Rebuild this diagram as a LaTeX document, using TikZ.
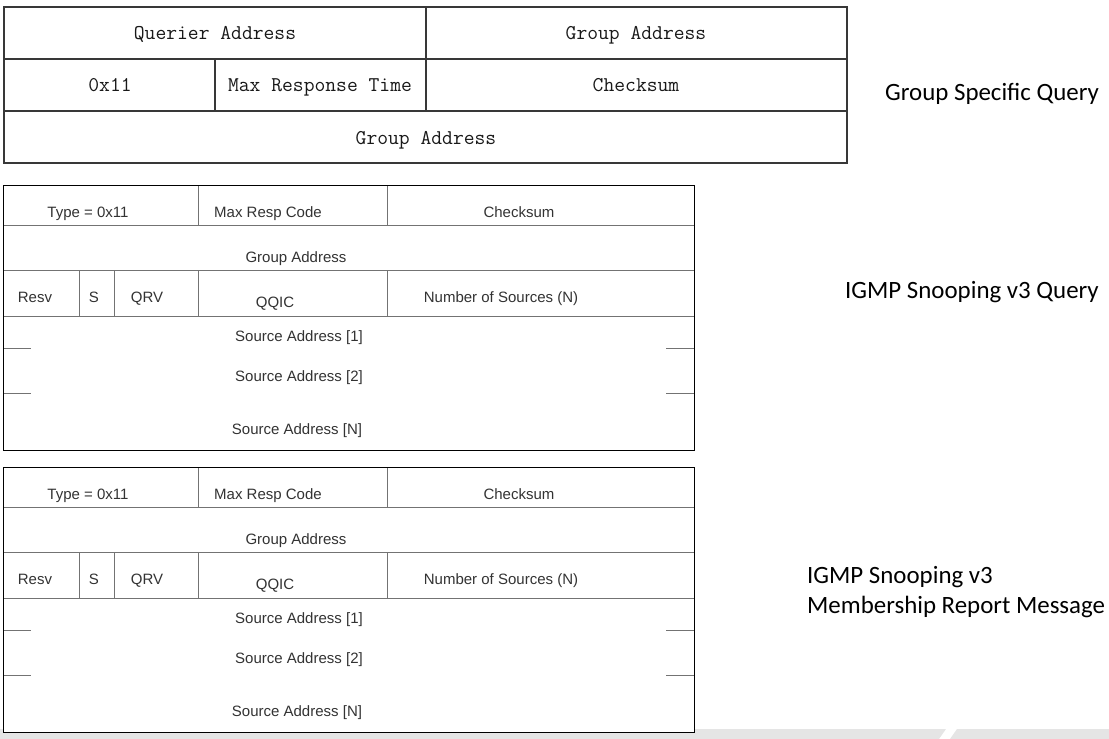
\documentclass[tikz,border=0pt]{standalone}
\usepackage{fontspec}
\setmainfont{Carlito}
\newfontfamily\monof{Latin Modern Mono}
\newfontfamily\arialf{Liberation Sans}
\newcommand{\vthreetable}[2]{%
\begin{scope}[shift={(0,#2)}]
  \fill[white] (3,185) rectangle (694,450);
  \draw[innerline] (3,225) -- (694,225) (3,270) -- (694,270) (3,316) -- (694,316)
    (198,185) -- (198,225) (387,185) -- (387,225)
    (79,270) -- (79,316) (114,270) -- (114,316) (198,270) -- (198,316) (387,270) -- (387,316)
    (3,348) -- (31,348) (3,393) -- (31,393) (666,348) -- (694,348) (666,393) -- (694,393);
  \draw[outerline] (3,185) rectangle (694,450);
  \node[ariatext] (#1type) at (88,217) {Type = 0x11};
  \node[ariatext] (#1mrc) at (268,217) {Max Resp Code};
  \node[ariatext] (#1cks) at (519,217) {Checksum};
  \node[ariatext] (#1grp) at (296,262) {Group Address};
  \node[ariatext] (#1resv) at (35,302) {Resv};
  \node[ariatext] (#1s) at (94,302) {S};
  \node[ariatext] (#1qrv) at (147,302) {QRV};
  \node[ariatext] (#1qqic) at (275,307) {QQIC};
  \node[ariatext] (#1nsrc) at (501,302) {Number of Sources (N)};
  \node[ariatext] (#1sa1) at (299,341) {Source Address [1]};
  \node[ariatext] (#1sa2) at (299,381) {Source Address [2]};
  \node[ariatext] (#1san) at (297,434) {Source Address [N]};
\end{scope}}
\begin{document}
\begin{tikzpicture}[x=1pt,y=-1pt,
  topline/.style={draw=black!78, line width=1.1pt},
  outerline/.style={draw=black, line width=1pt},
  innerline/.style={draw=black!55, line width=1pt},
  montext/.style={font=\monof\fontsize{21}{23}\selectfont, text=black!90, anchor=base, inner sep=0pt},
  ariatext/.style={font=\arialf\fontsize{15}{17}\selectfont, text=black!80, anchor=base, inner sep=0pt},
  caption/.style={font=\fontsize{24.9}{28}\selectfont, anchor=base west, inner sep=0pt}]
\useasboundingbox (0,0) rectangle (1109,739);
% grey band at the bottom
\fill[black!10] (0,729) -- (946,729) -- (939,739) -- (0,739) -- cycle;
\fill[black!10] (957,729) -- (1109,729) -- (1109,739) -- (950,739) -- cycle;
% Group specific query table
\fill[white] (4,7) rectangle (847,163);
\draw[topline] (4,59) -- (847,59) (4,111) -- (847,111)
  (426,7) -- (426,111) (215,59) -- (215,111);
\draw[topline] (4,7) rectangle (847,163);
\node[montext] (qa) at (215,39) {Querier Address};
\node[montext] (ga1) at (636,39) {Group Address};
\node[montext] (typ) at (110,91) {0x11};
\node[montext] (mrt) at (320,91) {Max Response Time};
\node[montext] (cks) at (636,91) {Checksum};
\node[montext] (ga2) at (426,144) {Group Address};
% IGMPv3 tables
\vthreetable{q}{0}
\vthreetable{r}{282}
% captions
\node[caption] (capgsq) at (885,100) {Group Specific Query};
\node[caption] (capq) at (845,298) {IGMP Snooping v3 Query};
\node[caption] (capr1) at (807,583) {IGMP Snooping v3};
\node[caption] (capr2) at (807,613) {Membership Report Message};
\end{tikzpicture}
\end{document}
